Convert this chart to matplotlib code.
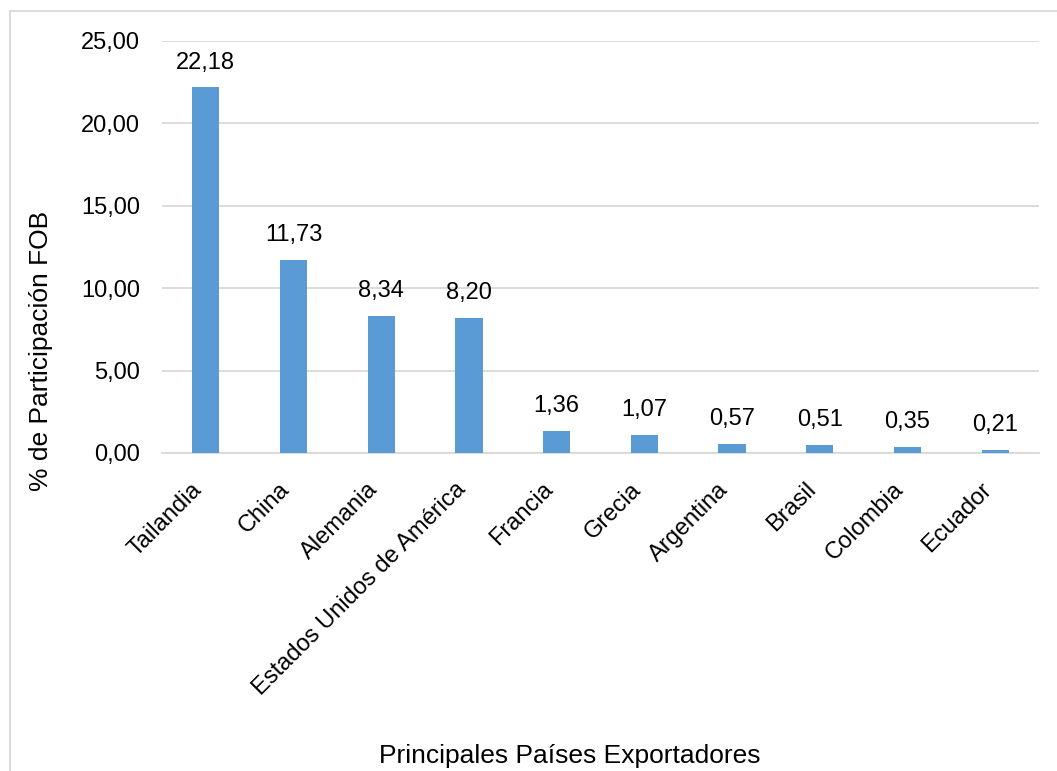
import matplotlib.pyplot as plt
from matplotlib.patches import Rectangle
from matplotlib.transforms import ScaledTranslation

paises = ["Tailandia", "China", "Alemania", "Estados Unidos de América", "Francia",
          "Grecia", "Argentina", "Brasil", "Colombia", "Ecuador"]
participacion = [22.18, 11.73, 8.34, 8.20, 1.36, 1.07, 0.57, 0.51, 0.35, 0.21]
yticks = [0, 5, 10, 15, 20, 25]

BAR = "#5b9bd5"
GRID = "#d9d9d9"
FS = 17
FS_TITLE = 19

plt.rcParams["font.family"] = ["Liberation Sans", "DejaVu Sans"]

fig = plt.figure(figsize=(10.57, 7.71), dpi=100)
ax = fig.add_axes([162 / 1057, 1 - 453 / 771, (1039 - 162) / 1057, (453 - 41) / 771])

x = list(range(len(paises)))
bars = ax.bar(x, participacion, width=0.31, color=BAR, zorder=3)
for b, v in zip(bars, participacion):
    ax.annotate(f"{v:.2f}".replace(".", ","), (b.get_x() + b.get_width() / 2, v),
                xytext=(0, 10), textcoords="offset points",
                ha="center", va="bottom", fontsize=FS)

ax.set_xlim(-0.5, len(paises) - 0.5)
ax.set_ylim(0, 25)
ax.set_yticks(yticks)
ax.set_yticklabels([f"{t:.2f}".replace(".", ",") for t in yticks], fontsize=FS)
ax.yaxis.grid(True, color=GRID, lw=1.3, zorder=0)
ax.set_xticks(x)
ax.set_xticklabels(paises, rotation=45, ha="right", va="center",
                   rotation_mode="anchor", fontsize=FS)
ax.tick_params(axis="both", length=0)
ax.tick_params(axis="x", pad=24)
ax.tick_params(axis="y", pad=16)
shift = ScaledTranslation(-5 / 72, 0, fig.dpi_scale_trans)
for lbl in ax.get_xticklabels():
    lbl.set_transform(lbl.get_transform() + shift)
for s in ["top", "right", "left"]:
    ax.spines[s].set_visible(False)
ax.spines["bottom"].set_color(GRID)
ax.spines["bottom"].set_linewidth(1.3)

fig.text(41 / 1057, 1 - 351 / 771, "% de Participación FOB", rotation=90,
         ha="center", va="center", fontsize=FS_TITLE)
fig.text(570 / 1057, 1 - 756 / 771, "Principales Países Exportadores",
         ha="center", va="center", fontsize=FS_TITLE)

# chart area border
fig.patches.append(Rectangle((10 / 1057, -0.1), 1.2, 1 - 11 / 771 + 0.1,
                             transform=fig.transFigure, fill=False,
                             edgecolor=GRID, lw=1.3))

fig.savefig("out.png", dpi=100)
